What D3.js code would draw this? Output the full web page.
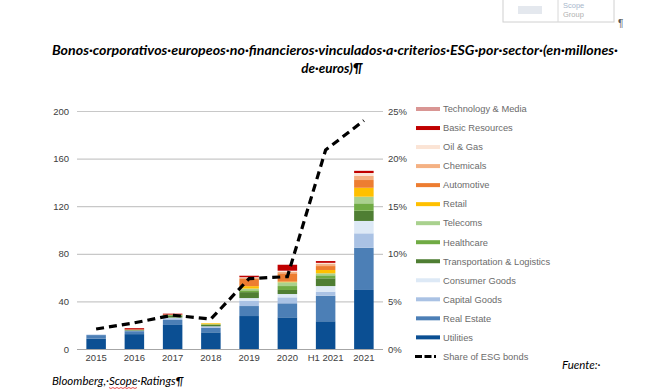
<!DOCTYPE html>
<html><head><meta charset="utf-8">
<script src="https://cdn.jsdelivr.net/npm/d3@7"></script>
<style>
body{margin:0;background:#fff;}
svg{display:block;}
</style></head>
<body>
<svg id="c" width="653" height="391"></svg>
<script>
const categories = ["2015","2016","2017","2018","2019","2020","H1 2021","2021"];
const sectors = ["Utilities","Real Estate","Capital Goods","Consumer Goods","Transportation & Logistics","Healthcare","Telecoms","Retail","Automotive","Chemicals","Oil & Gas","Basic Resources","Technology & Media"];
const utilities      = [8.7, 12.5, 20.2, 14.0, 27.7, 26.6, 23.3, 49.6];
const realEstate     = [3.0, 2.5, 4.2, 3.9, 8.4, 11.8, 21.5, 35.5];
const capitalGoods   = [0.4, 0.5, 1.5, 1.2, 4.5, 5.0, 3.4, 12.1];
const consumerGoods  = [0, 0, 0.5, 0, 2.2, 2.8, 4.7, 10.4];
const transportation = [0, 0.6, 1.6, 1.2, 5.0, 3.4, 6.5, 8.6];
const healthcare     = [0, 0, 0.6, 0.5, 1.5, 3.3, 2.5, 6.2];
const telecoms       = [0, 0, 0, 0, 1.5, 3.2, 1.7, 5.6];
const retail         = [0, 0, 0, 0.8, 2.0, 0.5, 2.8, 7.5];
const automotive     = [0, 0.4, 0.4, 0, 6.0, 7.0, 3.3, 6.5];
const chemicals      = [0, 0, 0, 0, 1.0, 1.2, 1.7, 3.4];
const oilGas         = [0, 0, 0, 0, 0.5, 1.0, 1.0, 2.5];
const basicResources = [0, 1.0, 0.7, 0, 1.2, 5.0, 1.5, 1.7];
const techMedia      = [0, 0, 0, 0, 0.3, 0, 0, 0.3];
const shareESG       = [2.1, 2.75, 3.55, 3.15, 7.4, 7.6, 20.9, 24.0];
const leftTicks  = [0, 40, 80, 120, 160, 200];
const rightTicks = [0, 5, 10, 15, 20, 25];
const lineLabel = "Share of ESG bonds";
const titleLines = ["Bonos·corporativos·europeos·no·financieros·vinculados·a·criterios·ESG·por·sector·(en·millones·", "de·euros)¶"];

const seriesValues = [utilities, realEstate, capitalGoods, consumerGoods, transportation, healthcare, telecoms, retail, automotive, chemicals, oilGas, basicResources, techMedia];
const colors = ["#0b4f93","#4c7fb6","#aac2e4","#dde9f6","#4f7e33","#70ab44","#a9d18e","#ffc000","#ed7d31","#f4b183","#fbe4d5","#c00000","#d99694"];

const svg = d3.select("#c");
const M = {left:77, right:383, top:111, bottom:349};

const rows = categories.map((c,i)=>{const o={cat:c}; sectors.forEach((s,j)=>o[s]=seriesValues[j][i]); return o;});
const stack = d3.stack().keys(sectors)(rows);

const x = d3.scaleBand().domain(categories).range([M.left, M.right]).paddingInner(0.49).paddingOuter(0.245);
const y = d3.scaleLinear().domain([0,200]).range([M.bottom, M.top]);
const y2 = d3.scaleLinear().domain([0,25]).range([M.bottom, M.top]);

// gridlines
svg.append("g").selectAll("line").data(leftTicks).join("line")
  .attr("x1", M.left).attr("x2", M.right)
  .attr("y1", d=>y(d)+0.5).attr("y2", d=>y(d)+0.5)
  .attr("stroke", d=>d===0?"#a6a6a6":"#c8c8c8").attr("stroke-width",1.2);

// left axis
const la = svg.append("g").attr("transform",`translate(${M.left},0)`)
  .call(d3.axisLeft(y).tickValues(leftTicks).tickSize(0).tickPadding(8));
la.select(".domain").remove();
la.selectAll("text").attr("font-family","Liberation Sans, Arial, sans-serif").attr("font-size",9.5).attr("fill","#404040");

// right axis
const ra = svg.append("g").attr("transform",`translate(${M.right},0)`)
  .call(d3.axisRight(y2).tickValues(rightTicks).tickFormat(d=>d+"%").tickSize(0).tickPadding(5));
ra.select(".domain").remove();
ra.selectAll("text").attr("font-family","Liberation Sans, Arial, sans-serif").attr("font-size",9.5).attr("fill","#404040");

// bottom axis
const ba = svg.append("g").attr("transform",`translate(0,${M.bottom})`)
  .call(d3.axisBottom(x).tickSize(0).tickPadding(5));
ba.select(".domain").remove();
ba.selectAll("text").attr("font-family","Liberation Sans, Arial, sans-serif").attr("font-size",9.5).attr("fill","#404040");

// bars
svg.append("g").selectAll("g").data(stack).join("g")
  .attr("fill",(d,i)=>colors[i])
  .selectAll("rect").data(d=>d).join("rect")
  .attr("x", d=>x(d.data.cat)).attr("width", x.bandwidth())
  .attr("y", d=>y(d[1])).attr("height", d=>Math.max(0,y(d[0])-y(d[1])));

// line
const line = d3.line().x((d,i)=>x(categories[i])+x.bandwidth()/2).y(d=>y2(d));
svg.append("path").datum(shareESG).attr("d", line)
  .attr("fill","none").attr("stroke","#000").attr("stroke-width",3.2)
  .attr("stroke-dasharray","8,5");

// legend
const lg = svg.append("g");
const legendItems = sectors.map((s,i)=>({name:s,color:colors[i]})).reverse();
legendItems.forEach((d,i)=>{
  const yy = 109 + i*19.03;
  lg.append("rect").attr("x",416).attr("y",yy-2).attr("width",24).attr("height",4).attr("fill",d.color);
  lg.append("text").attr("x",443).attr("y",yy+3.3).text(d.name)
    .attr("font-family","Liberation Sans, Arial, sans-serif").attr("font-size",9.3).attr("fill","#6b6b6b");
});
const ly = 109 + 13*19.03;
lg.append("line").attr("x1",415).attr("x2",441).attr("y1",ly).attr("y2",ly)
  .attr("stroke","#000").attr("stroke-width",3).attr("stroke-dasharray","7,2.5,7,2.5,2");
lg.append("text").attr("x",443).attr("y",ly+3.3).text(lineLabel)
  .attr("font-family","Liberation Sans, Arial, sans-serif").attr("font-size",9.3).attr("fill","#6b6b6b");

// title
const t = svg.append("g").attr("font-family","Lato, Carlito, sans-serif").attr("font-weight","bold").attr("font-style","italic").attr("font-size",13.4).attr("fill","#000");
t.append("text").attr("x",335).attr("y",55).attr("text-anchor","middle").attr("textLength",566).attr("lengthAdjust","spacingAndGlyphs").text(titleLines[0]);
t.append("text").attr("x",332).attr("y",73).attr("text-anchor","middle").text(titleLines[1]);

// logo box (faint)
const lgb = svg.append("g");
lgb.append("rect").attr("x",503).attr("y",-4).attr("width",111).attr("height",26).attr("fill","#fff").attr("stroke","#d0d0d0").attr("stroke-width",1);
lgb.append("line").attr("x1",558).attr("x2",558).attr("y1",-4).attr("y2",22).attr("stroke","#d8d8d8");
lgb.append("rect").attr("x",518).attr("y",6).attr("width",24).attr("height",8).attr("fill","#e4e8ee");
lgb.append("text").attr("x",563).attr("y",8).text("Scope").attr("font-family","Liberation Sans, Arial, sans-serif").attr("font-size",7.5).attr("fill","#a8b8cc");
lgb.append("text").attr("x",563).attr("y",17).text("Group").attr("font-family","Liberation Sans, Arial, sans-serif").attr("font-size",7.5).attr("fill","#b0b0b0");
svg.append("text").attr("x",618).attr("y",27).text("¶").attr("font-family","Liberation Sans, Arial, sans-serif").attr("font-size",10).attr("fill","#555");

// source
const src = svg.append("g").attr("font-family","Lato, Carlito, sans-serif").attr("font-style","italic").attr("font-size",11.5).attr("fill","#000");
src.append("text").attr("x",562).attr("y",369).text("Fuente:·");
const s2 = src.append("text").attr("x",52).attr("y",385);
const p1 = s2.append("tspan").text("Bloomberg,·");
const p2 = s2.append("tspan").text("Scope");
s2.append("tspan").text("·Ratings¶");
// spell-check squiggle under "Scope"
const sx0 = 52 + p1.node().getComputedTextLength();
const sw = p2.node().getComputedTextLength();
let pts = [];
for (let k=0; k<=Math.round(sw/2); k++) pts.push([sx0 + k*2, 387.5 + (k%2?1:0)]);
svg.append("path").attr("d", d3.line()(pts)).attr("fill","none").attr("stroke","#e02020").attr("stroke-width",0.8);
</script>
</body></html>
